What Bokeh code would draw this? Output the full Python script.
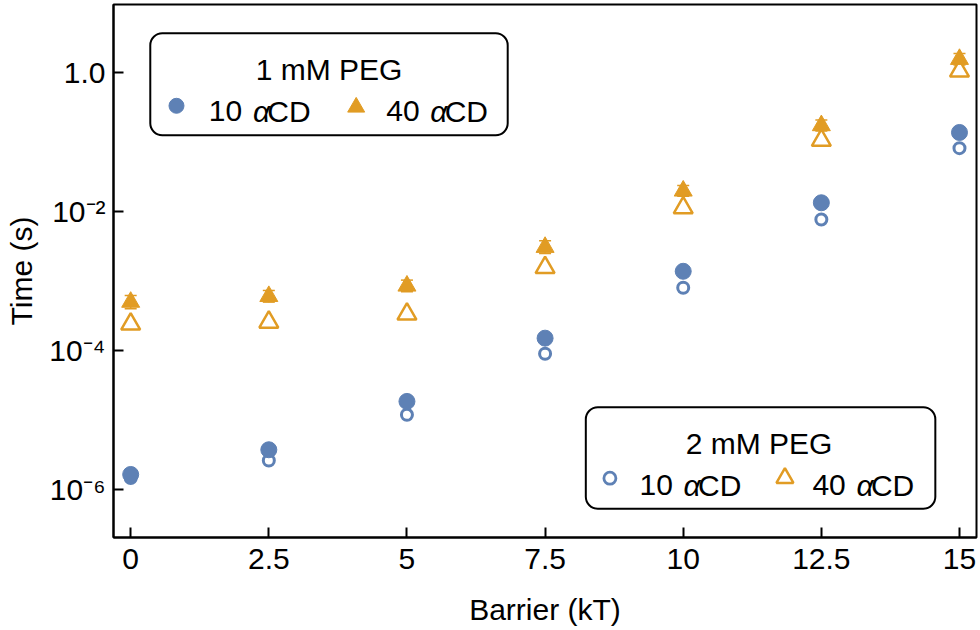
from bokeh.plotting import figure
from bokeh.models import (Range1d, FixedTicker, ColumnDataSource, Whisker, TeeHead,
                          BoxAnnotation, Label)
from bokeh.embed import file_html
from bokeh.resources import INLINE

# ---------------- data ----------------
barrier = [0, 2.5, 5, 7.5, 10, 12.5, 15]
t_1mM_10 = [1.63e-6, 3.70e-6, 1.84e-5, 1.50e-4, 1.38e-3, 1.34e-2, 0.138]
t_1mM_40 = [4.97e-4, 6.02e-4, 8.50e-4, 3.07e-3, 1.99e-2, 0.174, 1.57]
t_1mM_40_hi = [6.2e-4, 7.3e-4, 1.03e-3, 3.8e-3, 2.38e-2, 0.209, 1.90]
t_1mM_40_lo = [3.98e-4, 4.96e-4, 7.0e-4, 2.48e-3, 1.66e-2, 0.145, 1.30]
t_2mM_10 = [1.45e-6, 2.59e-6, 1.18e-5, 8.93e-5, 7.98e-4, 7.69e-3, 0.082]
t_2mM_40 = [2.39e-4, 2.55e-4, 3.33e-4, 1.56e-3, 1.135e-2, 0.1065, 1.06]

x_ticks = [0, 2.5, 5, 7.5, 10, 12.5, 15]
x_tick_labels = ["0", "2.5", "5", "7.5", "10", "12.5", "15"]
y_ticks = [1e-6, 1e-4, 1e-2, 1.0]
y_tick_labels = ["10\u207b\u2076", "10\u207b\u2074", "10\u207b\u00b2", "1.0"]

legend_titles = ["1 mM PEG", "2 mM PEG"]
legend_numbers = ["10", "40"]

# ---------------- style ----------------
BLUE = "#5E81B5"
ORANGE = "#E19C24"
FONT = "Liberation Sans"
FS = "30px"

X0, X1 = -0.311, 15.308
LY0, LY1 = -6.696, 0.984

p = figure(width=978, height=628,
           x_range=Range1d(X0, X1), y_range=Range1d(10 ** LY0, 10 ** LY1),
           y_axis_type="log", output_backend="svg", toolbar_location=None,
           min_border_left=113, min_border_right=2, min_border_top=4,
           min_border_bottom=91)

p.background_fill_color = "white"
p.border_fill_color = "white"
p.xgrid.visible = False
p.ygrid.visible = False
p.outline_line_color = "black"
p.outline_line_width = 2
p.outline_line_alpha = 1

for ax in (p.xaxis[0], p.yaxis[0]):
    ax.axis_line_width = 2
    ax.axis_line_color = "black"
    ax.major_tick_line_width = 2
    ax.major_tick_line_color = "black"
    ax.major_tick_in = 10
    ax.major_tick_out = 0
    ax.minor_tick_line_color = None
    ax.major_label_text_font = FONT
    ax.major_label_text_font_size = FS
    ax.major_label_text_color = "black"
    ax.axis_label_text_font = FONT
    ax.axis_label_text_font_size = FS
    ax.axis_label_text_font_style = "normal"
    ax.axis_label_text_color = "black"

p.xaxis.ticker = FixedTicker(ticks=x_ticks, minor_ticks=[])
p.xaxis.major_label_overrides = dict(zip(x_ticks, x_tick_labels))
p.xaxis.major_label_standoff = 11
p.xaxis.axis_label = "Barrier (kT)"
p.xaxis.axis_label_standoff = 21

p.yaxis.ticker = FixedTicker(ticks=y_ticks, minor_ticks=[])
p.yaxis.major_label_overrides = dict(zip(y_ticks, y_tick_labels))
p.yaxis.major_label_standoff = 8
p.yaxis.axis_label = "Time (s)"
p.yaxis.axis_label_standoff = 8

# ---------------- data marks ----------------
err_src = ColumnDataSource(dict(base=barrier, upper=t_1mM_40_hi, lower=t_1mM_40_lo))
p.add_layout(Whisker(source=err_src, base="base", upper="upper", lower="lower",
                     dimension="height", line_color=ORANGE, line_width=1.5,
                     upper_head=TeeHead(size=12, line_color=ORANGE, line_width=1.5),
                     lower_head=TeeHead(size=12, line_color=ORANGE, line_width=1.5),
                     level="underlay"))

p.scatter(barrier, t_2mM_10, marker="circle", size=11, fill_color=None,
          line_color=BLUE, line_width=3)
p.scatter(barrier, t_2mM_40, marker="triangle", size=19, fill_color="white",
          line_color=ORANGE, line_width=2.5)
p.scatter(barrier, t_1mM_10, marker="circle", size=16, fill_color=BLUE,
          line_color=BLUE)
p.scatter(barrier, t_1mM_40, marker="triangle", size=18, fill_color=ORANGE,
          line_color=ORANGE)

# ---------------- legends (layout helpers in page pixels) ----------------
def lx(px):
    return (px - 130.2) / 55.25


def ly(py):
    return 10 ** ((72.3 - py) / 69.4)


def add_text(px, py, txt, align="left", style="normal"):
    p.add_layout(Label(x=lx(px), y=ly(py), text=txt, text_align=align,
                       text_baseline="alphabetic", text_font=FONT,
                       text_font_size=FS, text_font_style=style,
                       text_color="black"))


def add_row(px_num, py, num):
    add_text(px_num, py, num)
    add_text(px_num + 44.1, py, "\u03b1", style="italic")
    add_text(px_num + 58.5, py, "CD")


# legend 1 (filled markers)
p.add_layout(BoxAnnotation(left=lx(149.8), right=lx(507.2), top=ly(32.7),
                           bottom=ly(134.7), fill_color="white", fill_alpha=1,
                           line_color="black", line_width=2, line_alpha=1,
                           border_radius=12, level="underlay"))
add_text(328.5, 69.3, legend_titles[0], align="center")
p.scatter([lx(176.0)], [ly(105.3)], marker="circle", size=15,
          fill_color=BLUE, line_color=BLUE)
p.scatter([lx(355.7)], [ly(106.7)], marker="triangle", size=17,
          fill_color=ORANGE, line_color=ORANGE)
add_row(208.3, 111.0, legend_numbers[0])
add_row(385.7, 111.0, legend_numbers[1])

# legend 2 (open markers)
p.add_layout(BoxAnnotation(left=lx(585.3), right=lx(934.8), top=ly(406.7),
                           bottom=ly(508.3), fill_color="white", fill_alpha=1,
                           line_color="black", line_width=2, line_alpha=1,
                           border_radius=12, level="underlay"))
add_text(758.5, 443.3, legend_titles[1], align="center")
p.scatter([lx(609.4)], [ly(477.7)], marker="circle", size=12,
          fill_color=None, line_color=BLUE, line_width=2.8)
p.scatter([lx(784.4)], [ly(477.5)], marker="triangle", size=17,
          fill_color="white", line_color=ORANGE, line_width=2.5)
add_row(639.0, 485.0, legend_numbers[0])
add_row(811.9, 485.0, legend_numbers[1])

open("out.html", "w").write(file_html(p, INLINE))
